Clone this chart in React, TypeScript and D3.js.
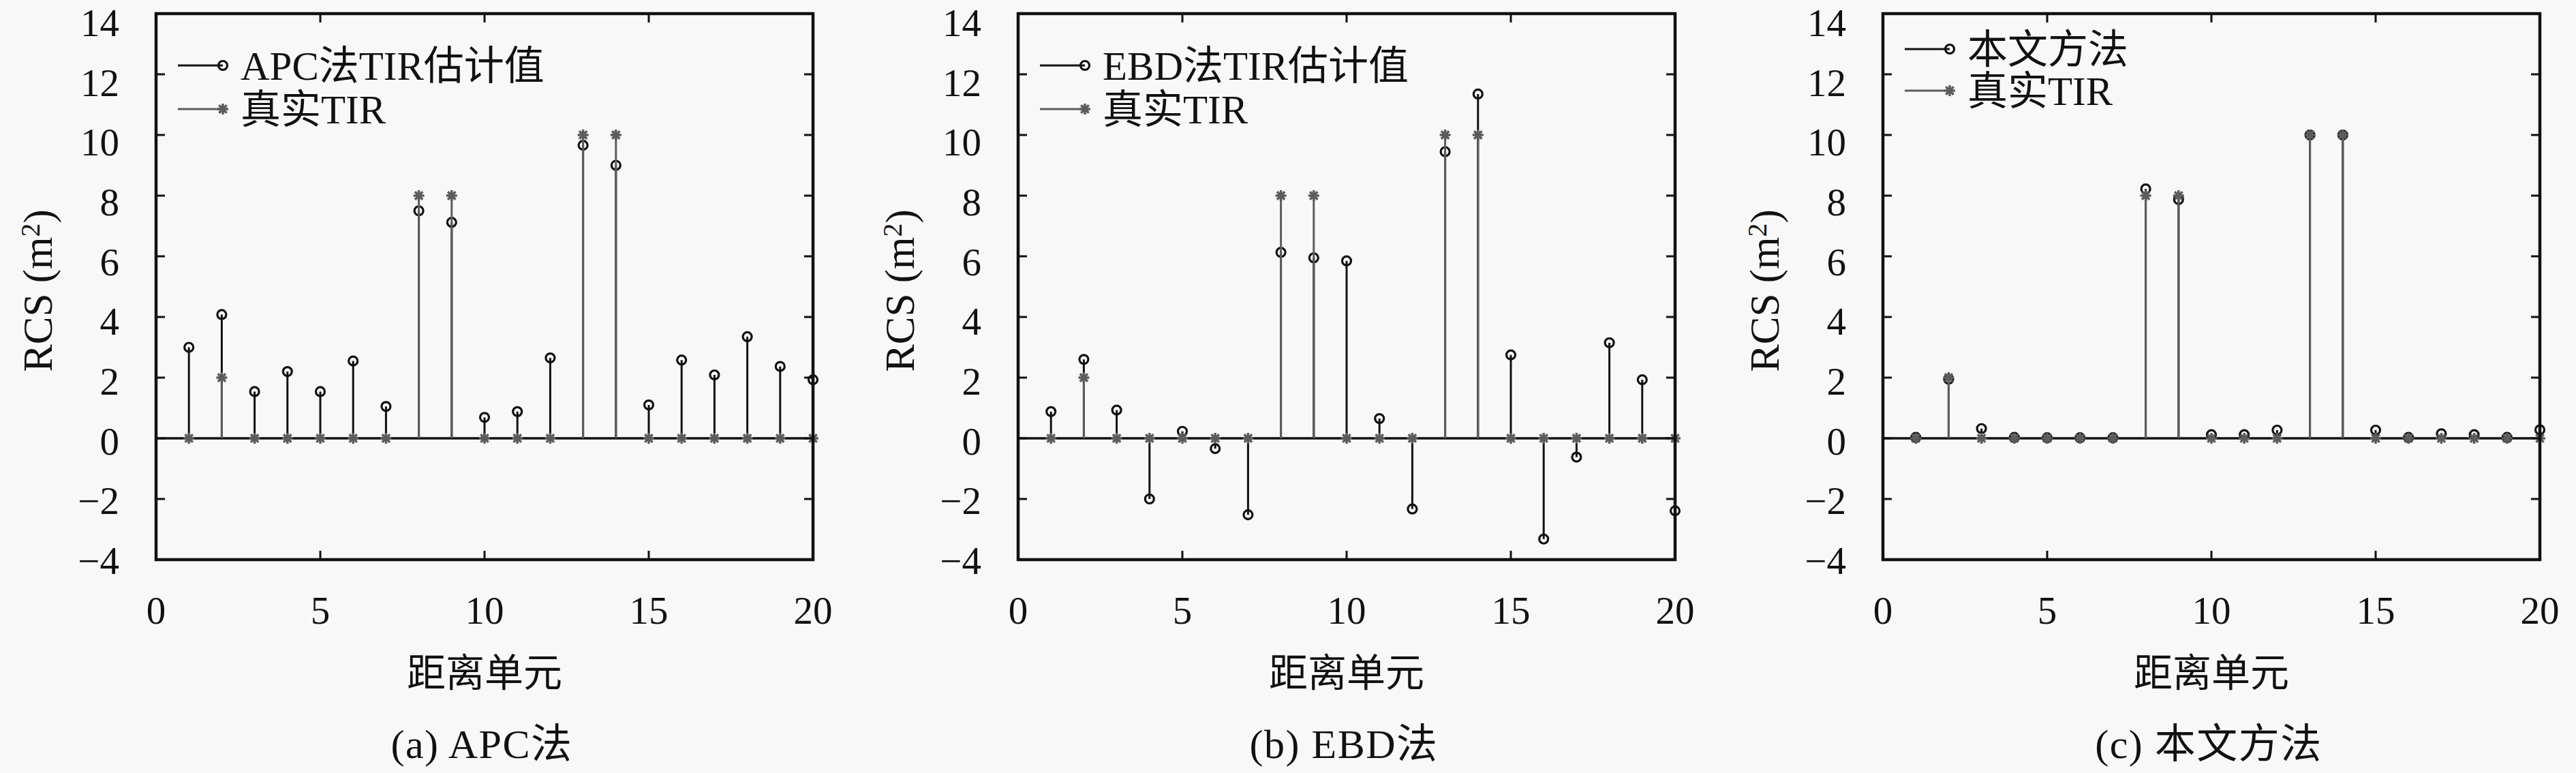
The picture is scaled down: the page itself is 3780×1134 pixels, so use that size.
import React from "react";
import * as d3 from "d3";

// range cells 1..20
const cells = d3.range(1, 21);

// TIR estimates
const apcValues = [3.0, 4.08, 1.54, 2.2, 1.54, 2.55, 1.05, 7.5, 7.12, 0.69, 0.88, 2.65, 9.66, 9.0, 1.1, 2.58, 2.09, 3.35, 2.37, 1.93];
const ebdValues = [0.88, 2.6, 0.93, -2.0, 0.23, -0.34, -2.52, 6.13, 5.95, 5.85, 0.65, -2.33, 9.45, 11.35, 2.75, -3.32, -0.62, 3.15, 1.93, -2.39];
const ourValues = [0.03, 1.95, 0.32, 0.03, 0.02, 0.02, 0.02, 8.22, 7.87, 0.12, 0.12, 0.27, 10.0, 10.0, 0.27, 0.03, 0.15, 0.12, 0.03, 0.28];
const trueValues = [0, 2, 0, 0, 0, 0, 0, 8, 8, 0, 0, 0, 10, 10, 0, 0, 0, 0, 0, 0];

const xTicks = [0, 5, 10, 15, 20];
const yTicks = [-4, -2, 0, 2, 4, 6, 8, 10, 12, 14];

const panelLefts = [229, 1494, 2763];
const legendNames = ["APC法TIR估计值", "EBD法TIR估计值", "本文方法"];
const captions = ["(a) APC法", "(b) EBD法", "(c) 本文方法"];
const legendRows = [[96, 160], [96, 160], [72, 133]];
const panelValues = [apcValues, ebdValues, ourValues];

const W = 3780;
const H = 1134;
const plotW = 964;
const top = 20;
const bottom = 821;
const font = "'Liberation Serif', 'Noto Sans CJK SC', serif";
const gray = "#5c5c5c";
const ink = "#111";

const star = (cx: number, cy: number, r: number) => {
  const d = r * Math.SQRT1_2;
  return `M${cx - r},${cy}L${cx + r},${cy}M${cx},${cy - r}L${cx},${cy + r}` +
    `M${cx - d},${cy - d}L${cx + d},${cy + d}M${cx - d},${cy + d}L${cx + d},${cy - d}`;
};

const fmt = (v: number) => (v < 0 ? "\u2212" + Math.abs(v) : String(v));

const Panel: React.FC<{ idx: number }> = ({ idx }) => {
  const left = panelLefts[idx];
  const x = d3.scaleLinear().domain([0, 20]).range([left, left + plotW]);
  const y = d3.scaleLinear().domain([-4, 14]).range([bottom, top]);
  // tick labels sit on a slightly tighter scale in the original export
  const yLab = d3.scaleLinear().domain([-4, 14]).range([822, 33]);
  const est = panelValues[idx];
  const [r1, r2] = legendRows[idx];
  const tick = 13;
  return (
    <g fontFamily={font}>
      {/* estimate stems */}
      {cells.map((c, i) => (
        <line key={"es" + c} x1={x(c)} x2={x(c)} y1={y(0)} y2={y(est[i])} stroke={ink} strokeWidth={3} />
      ))}
      {cells.map((c, i) => (
        <circle key={"ec" + c} cx={x(c)} cy={y(est[i])} r={6.5} fill="none" stroke={ink} strokeWidth={3.2} />
      ))}
      {/* baseline */}
      <line x1={x(0)} x2={x(20)} y1={y(0)} y2={y(0)} stroke={ink} strokeWidth={3.5} />
      {/* true stems */}
      {cells.map((c, i) => (
        <line key={"ts" + c} x1={x(c)} x2={x(c)} y1={y(0)} y2={y(trueValues[i])} stroke={gray} strokeWidth={3} />
      ))}
      {cells.map((c, i) => (
        <path key={"tm" + c} d={star(x(c), y(trueValues[i]), 8)} stroke={gray} strokeWidth={3.5} fill="none" />
      ))}
      {/* box */}
      <rect x={x(0)} y={y(14)} width={plotW} height={bottom - top} fill="none" stroke={ink} strokeWidth={4.5} />
      {xTicks.map((t) => (
        <g key={"xt" + t}>
          <line x1={x(t)} x2={x(t)} y1={bottom} y2={bottom - tick} stroke={ink} strokeWidth={3} />
          <line x1={x(t)} x2={x(t)} y1={top} y2={top + tick} stroke={ink} strokeWidth={3} />
          <text x={x(t)} y={915} fontSize={57} textAnchor="middle" fill={ink}>{t}</text>
        </g>
      ))}
      {yTicks.map((t) => (
        <g key={"yt" + t}>
          <line x1={x(0)} x2={x(0) + tick} y1={y(t)} y2={y(t)} stroke={ink} strokeWidth={3} />
          <line x1={x(20)} x2={x(20) - tick} y1={y(t)} y2={y(t)} stroke={ink} strokeWidth={3} />
          <text x={left - 54} y={yLab(t)} dy="0.35em" fontSize={57} textAnchor="end" fill={ink}>{fmt(t)}</text>
        </g>
      ))}
      {/* legend */}
      <line x1={left + 32} x2={left + 98} y1={r1} y2={r1} stroke={ink} strokeWidth={3} />
      <circle cx={left + 98} cy={r1} r={6.5} fill="none" stroke={ink} strokeWidth={3.2} />
      <text x={left + 124} y={r1} dy="0.36em" fontSize={59} fill={ink}>{legendNames[idx]}</text>
      <line x1={left + 32} x2={left + 98} y1={r2} y2={r2} stroke={gray} strokeWidth={3} />
      <path d={star(left + 98, r2, 8)} stroke={gray} strokeWidth={3.5} fill="none" />
      <text x={left + 124} y={r2} dy="0.36em" fontSize={59} fill={ink}>真实TIR</text>
      {/* axis titles */}
      <text x={left + plotW / 2} y={1007} fontSize={57} textAnchor="middle" fill={ink}>距离单元</text>
      <text transform={`translate(${left - 174},${(top + bottom) / 2 + 6}) rotate(-90)`} dy="0.35em" fontSize={61} textAnchor="middle" fill={ink}>
        RCS (m<tspan dy="-0.45em" fontSize={40}>2</tspan><tspan dy="0.3em">)</tspan>
      </text>
      <text x={left + plotW / 2 - 4} y={1112} fontSize={60} letterSpacing={1.5} textAnchor="middle" fill={ink}>{captions[idx]}</text>
    </g>
  );
};

export default function App() {
  return (
    <svg width={W} height={H} style={{ position: "absolute", left: 0, top: 0, background: "#f8f8f8" }}>
      <rect width={W} height={H} fill="#f8f8f8" />
      {[0, 1, 2].map((i) => (
        <Panel key={i} idx={i} />
      ))}
    </svg>
  );
}
